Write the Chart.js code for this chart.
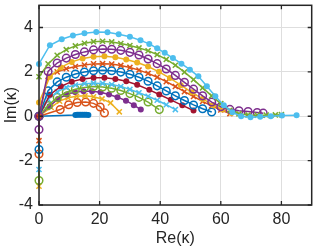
<!DOCTYPE html>
<html>
<head>
<meta charset="utf-8">
<script src="https://cdn.jsdelivr.net/npm/chart.js@4"></script>
<style>
html,body{margin:0;padding:0;background:#fff;}
#wrap{width:317px;height:250px;}
</style>
</head>
<body>
<div id="wrap"><canvas id="c" width="317" height="250"></canvas></div>
<script>
// ---- data ----
const xTicks = [0, 20, 40, 60, 80];
const yTicks = [-4, -2, 0, 2, 4];

const re1 = [0, 12.0, 12.6, 13.2, 13.8, 14.4, 15.0, 15.6, 16.3];
const im1 = [0, 0.06, 0.07, 0.07, 0.07, 0.07, 0.07, 0.07, 0.06];

const re2 = [0, 0, 7.0, 9.8, 12.6, 15.4, 18.0, 20.2, 21.6];
const im2 = [-1.7, 0, 0.30, 0.52, 0.62, 0.64, 0.58, 0.42, 0.15];

const re3 = [0, 0, 4.0, 6.8, 9.6, 12.4, 15.2, 18.0, 20.8, 23.6, 26.5];
const im3 = [-3.15, 0, 0.40, 0.68, 0.83, 0.90, 0.92, 0.88, 0.78, 0.60, 0.20];

const re4 = [0, 3.5, 6.3, 9.1, 11.9, 14.7, 17.5, 20.3, 23.1, 25.9, 28.7, 31.3, 33.6];
const im4 = [0, 0.45, 0.78, 0.98, 1.09, 1.13, 1.13, 1.08, 0.98, 0.86, 0.70, 0.50, 0.30];

const re5 = [0, 0, 3.0, 6.0, 9.0, 12.0, 15.0, 18.0, 21.0, 24.0, 27.0, 30.0, 33.0, 36.0, 39.7];
const im5 = [-2.9, 0, 0.48, 0.85, 1.08, 1.22, 1.30, 1.34, 1.32, 1.26, 1.16, 1.02, 0.85, 0.64, 0.30];

const re6 = [0, 0, 3.0, 6.0, 9.0, 12.0, 15.0, 18.0, 21.0, 24.0, 27.0, 30.0, 33.0, 36.0, 39.0, 42.0, 45.0];
const im6 = [-2.4, 0, 0.76, 1.10, 1.30, 1.41, 1.47, 1.49, 1.48, 1.43, 1.34, 1.21, 1.06, 0.90, 0.72, 0.52, 0.30];

const re7 = [0, 3.6, 7.2, 10.8, 14.4, 18.0, 21.6, 25.2, 28.8, 32.4, 36.4, 39.7, 43.5, 47.3, 51.0];
const im7 = [0, 0.97, 1.35, 1.56, 1.68, 1.74, 1.74, 1.68, 1.58, 1.42, 1.19, 0.98, 0.74, 0.49, 0.26];

const re8 = [0, 0, 3.0, 6.0, 9.0, 12.0, 15.0, 18.0, 21.0, 24.0, 27.0, 30.0, 33.0, 36.0, 39.0, 42.0, 45.0, 48.0, 51.0, 54.0, 57.0];
const im8 = [-1.5, 0, 1.15, 1.55, 1.76, 1.90, 1.99, 2.05, 2.07, 2.05, 1.99, 1.89, 1.76, 1.58, 1.37, 1.14, 0.92, 0.71, 0.51, 0.34, 0.19];

const re9 = [0, 0, 3.0, 6.0, 9.0, 12.0, 15.0, 18.0, 21.0, 24.0, 27.0, 30.0, 33.0, 36.0, 39.0, 42.0, 45.0, 48.0, 51.0, 54.0, 57.0, 60.0, 63.0];
const im9 = [-1.1, 0, 1.80, 2.00, 2.14, 2.24, 2.31, 2.36, 2.37, 2.35, 2.29, 2.20, 2.08, 1.93, 1.76, 1.56, 1.34, 1.11, 0.89, 0.67, 0.47, 0.28, 0.12];

const re10 = [0, 3.6, 7.2, 10.8, 14.4, 18.0, 21.6, 25.2, 28.8, 32.4, 36.0, 39.6, 43.2, 46.8, 50.4, 54.0, 57.5, 60.5, 63.5];
const im10 = [0.62, 1.78, 2.20, 2.45, 2.60, 2.68, 2.70, 2.66, 2.56, 2.42, 2.24, 2.00, 1.72, 1.40, 1.08, 0.78, 0.50, 0.30, 0.15];

const re11 = [0, 0, 3.0, 6.0, 9.0, 12.0, 15.0, 18.0, 21.0, 24.0, 27.0, 30.0, 33.0, 36.0, 39.0, 42.0, 45.0, 48.0, 51.0, 54.0, 57.0, 60.0, 63.0, 66.0, 69.0, 72.0, 74.0];
const im11 = [-0.6, 0, 2.02, 2.40, 2.62, 2.78, 2.90, 2.99, 3.03, 3.02, 2.97, 2.88, 2.76, 2.58, 2.37, 2.13, 1.84, 1.53, 1.22, 0.92, 0.64, 0.43, 0.31, 0.25, 0.21, 0.17, 0.14];

const re12 = [0, 3.0, 6.0, 9.0, 12.0, 15.0, 18.0, 21.0, 24.0, 27.0, 30.0, 33.0, 36.0, 39.0, 42.0, 45.0, 48.0, 51.0, 54.0, 57.0, 60.0, 63.0, 66.0, 69.0, 72.0, 75.0, 78.0, 80.0];
const im12 = [1.78, 2.36, 2.75, 3.00, 3.17, 3.29, 3.36, 3.38, 3.35, 3.28, 3.19, 3.08, 2.95, 2.78, 2.56, 2.30, 1.99, 1.65, 1.28, 0.92, 0.57, 0.27, 0.11, 0.06, 0.05, 0.05, 0.06, 0.07];

const re13 = [0, 3.6, 7.5, 11.2, 15.0, 18.9, 22.6, 26.3, 30.0, 33.5, 36.4, 39.0, 41.5, 44.2, 47.0, 49.8, 52.6, 55.4, 58.2, 61.0, 63.8, 66.7, 69.8, 73.0, 76.5, 80.2, 85.0];
const im13 = [2.36, 3.20, 3.47, 3.64, 3.74, 3.80, 3.78, 3.70, 3.58, 3.42, 3.26, 3.06, 2.86, 2.62, 2.37, 2.10, 1.80, 1.35, 0.90, 0.50, 0.18, 0.00, -0.04, -0.02, 0.00, 0.03, 0.04];

// ---- styling ----
const palette = ['#0072BD', '#D95319', '#EDB120', '#7E2F8E', '#77AC30', '#4DBEEE', '#A2142F'];
const markers = ['dot', 'o', 'x'];
const curves = [[re1, im1], [re2, im2], [re3, im3], [re4, im4], [re5, im5], [re6, im6], [re7, im7],
                [re8, im8], [re9, im9], [re10, im10], [re11, im11], [re12, im12], [re13, im13]];

const datasets = curves.map(([re, im], i) => {
  const col = palette[i % palette.length];
  const m = markers[i % markers.length];
  return {
    data: re.map((x, k) => ({x: x, y: im[k]})),
    showLine: true,
    borderColor: col,
    borderWidth: 1.5,
    pointStyle: m === 'x' ? 'crossRot' : 'circle',
    pointRadius: m === 'dot' ? 3.0 : (m === 'o' ? 3.8 : 3.6),
    pointBorderWidth: m === 'dot' ? 0 : 1.5,
    pointBorderColor: col,
    pointBackgroundColor: m === 'dot' ? col : 'rgba(0,0,0,0)',
    pointHoverRadius: 0,
    clip: false,
    order: curves.length - i
  };
});

const tickColor = '#262626';
const boxPlugin = {
  id: 'matlabBox',
  afterDraw(chart) {
    const {ctx, chartArea: a, scales} = chart;
    const sx = scales.x, sy = scales.y;
    ctx.save();
    ctx.strokeStyle = tickColor;
    ctx.lineWidth = 1.3;
    ctx.beginPath();
    xTicks.forEach(v => {
      const p = sx.getPixelForValue(v);
      ctx.moveTo(p, a.bottom); ctx.lineTo(p, a.bottom - 4);
      ctx.moveTo(p, a.top); ctx.lineTo(p, a.top + 4);
    });
    yTicks.forEach(v => {
      const p = sy.getPixelForValue(v);
      ctx.moveTo(a.left, p); ctx.lineTo(a.left + 4, p);
      ctx.moveTo(a.right, p); ctx.lineTo(a.right - 4, p);
    });
    ctx.stroke();
    ctx.lineWidth = 1.5;
    ctx.strokeRect(a.left, a.top, a.right - a.left, a.bottom - a.top);
    ctx.restore();
  }
};

const font = {family: '"Liberation Sans", Arial, Helvetica, sans-serif', size: 16};

new Chart(document.getElementById('c'), {
  type: 'scatter',
  data: {datasets},
  plugins: [boxPlugin],
  options: {
    responsive: false,
    devicePixelRatio: 1,
    animation: false,
    layout: {padding: {top: 3, right: 4, left: 0, bottom: 0}},
    plugins: {legend: {display: false}, tooltip: {enabled: false}},
    scales: {
      x: {
        type: 'linear', min: 0, max: 90,
        afterBuildTicks: s => { s.ticks = xTicks.map(v => ({value: v})); },
        afterFit: s => { s.height = 45; s.paddingLeft = 0; s.paddingRight = 0; },
        grid: {color: '#dedede', lineWidth: 1, drawTicks: false},
        border: {display: false},
        ticks: {color: tickColor, font, padding: 5, maxRotation: 0, autoSkip: false},
        title: {display: true, text: 'Re(κ)', color: tickColor, font, padding: {top: 0, bottom: 2}}
      },
      y: {
        type: 'linear', min: -4, max: 5,
        afterBuildTicks: s => { s.ticks = yTicks.map(v => ({value: v})); },
        afterFit: s => { s.width = 39; s.paddingTop = 0; s.paddingBottom = 0; },
        grid: {color: '#dedede', lineWidth: 1, drawTicks: false},
        border: {display: false},
        ticks: {color: tickColor, font, padding: 6, autoSkip: false},
        title: {display: true, text: 'Im(κ)', color: tickColor, font, padding: {top: 2, bottom: 0}}
      }
    }
  }
});
</script>
</body>
</html>
